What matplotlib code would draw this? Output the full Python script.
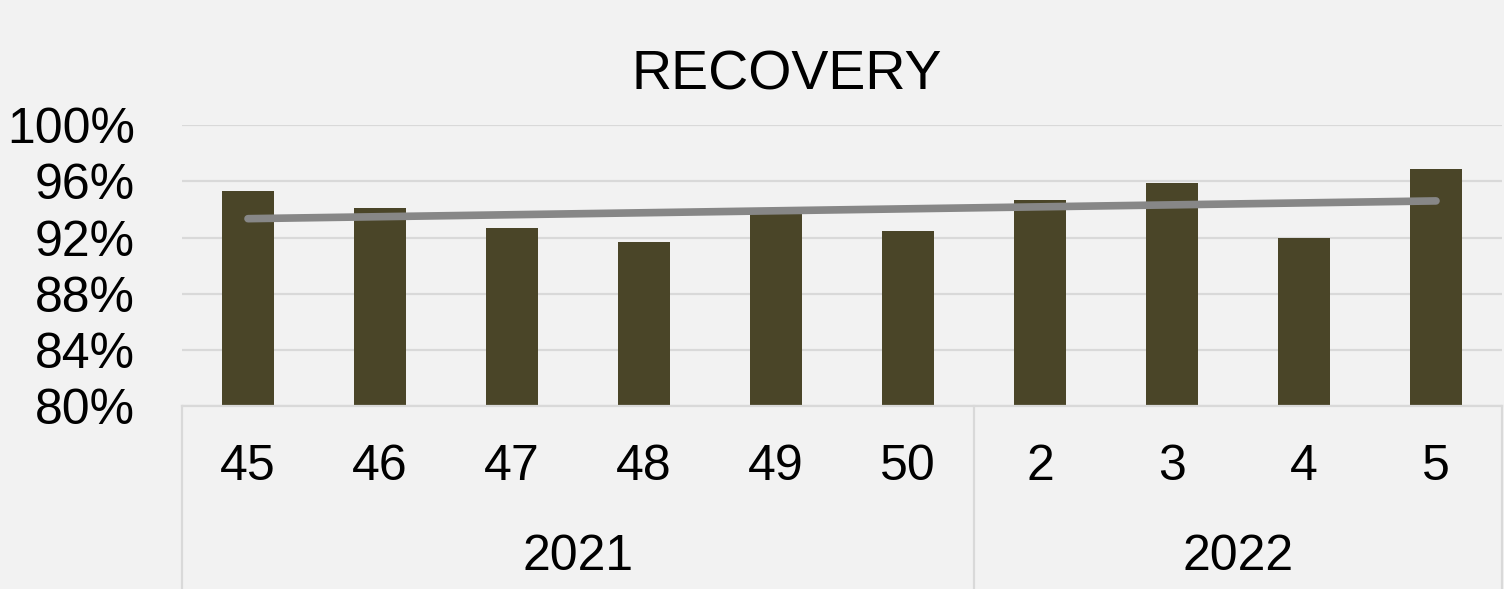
import numpy as np
from matplotlib import pyplot as plt

plt.rcParams["font.family"] = ["Liberation Sans", "DejaVu Sans"]

weeks = ["45", "46", "47", "48", "49", "50", "2", "3", "4", "5"]
years = ["2021", "2022"]
weeks_per_year = [6, 4]
recovery = [95.3, 94.1, 92.7, 91.7, 94.0, 92.5, 94.7, 95.9, 92.0, 96.9]
yticks = [80, 84, 88, 92, 96, 100]


def main():
    bg = "#f2f2f2"
    grid = "#d9d9d9"
    fig = plt.figure(figsize=(15.04, 5.89), dpi=100, facecolor=bg)
    ax = fig.add_axes([182 / 1504, 1 - 406 / 589, 1320 / 1504, 280.7 / 589])
    ax.set_facecolor(bg)

    x = np.arange(len(weeks))
    ax.bar(x, recovery, width=0.4, color="#4a4528", zorder=2)

    # linear trend line over the bars
    slope, intercept = np.polyfit(x, recovery, 1)
    ax.plot([x[0], x[-1]], [intercept, intercept + slope * x[-1]],
            color="#878787", lw=5.5, solid_capstyle="round", zorder=3)

    ax.set_xlim(-0.5, len(weeks) - 0.5)
    ax.set_ylim(80, 100)
    ax.set_yticks(yticks)
    ax.set_yticklabels([f"{v}%" for v in yticks], fontsize=36)
    ax.tick_params(axis="y", length=0, pad=34)
    ax.set_xticks([])
    ax.yaxis.grid(True, color=grid, lw=1.6, zorder=0)
    for s in ["top", "right", "left"]:
        ax.spines[s].set_visible(False)
    ax.spines["bottom"].set_color(grid)
    ax.spines["bottom"].set_linewidth(1.6)

    # multi-level category axis
    tr = ax.get_xaxis_transform()
    for xi, lab in zip(x, weeks):
        ax.text(xi, -0.218, lab, transform=tr, ha="center", va="center", fontsize=36)
    start = 0
    bounds = [-0.5]
    for yr, n in zip(years, weeks_per_year):
        mid = start + (n - 1) / 2
        ax.text(mid, -0.538, yr, transform=tr, ha="center", va="center", fontsize=36)
        start += n
        bounds.append(start - 0.5)
    for b in bounds:
        ax.plot([b, b], [0, -0.7], transform=tr, color=grid, lw=1.6, clip_on=False)

    fig.text(787 / 1504, 1 - 75 / 589, "RECOVERY", ha="center", va="center", fontsize=40)

    fig.savefig("out.png", dpi=100, facecolor=bg)
    plt.close(fig)


if __name__ == "__main__":
    main()
